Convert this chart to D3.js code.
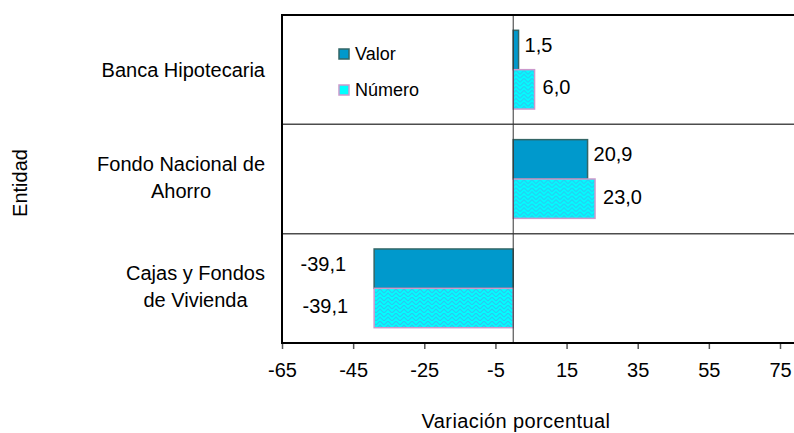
<!DOCTYPE html>
<html>
<head>
<meta charset="utf-8">
<script src="https://cdn.jsdelivr.net/npm/d3@7"></script>
<style>
  body { margin: 0; background: #fff; }
  svg { display: block; font-family: "Liberation Sans", Arial, sans-serif; }
  .tick text { font-size: 20px; fill: #000; }
</style>
</head>
<body>
<svg id="chart" width="794" height="433"></svg>
<script>
var categories = ["Banca Hipotecaria", "Fondo Nacional de Ahorro", "Cajas y Fondos de Vivienda"];
var categoryLines = [["Banca Hipotecaria"], ["Fondo Nacional de", "Ahorro"], ["Cajas y Fondos", "de Vivienda"]];
var seriesNames = ["Valor", "Número"];
var valor = [1.5, 20.9, -39.1];
var numero = [6.0, 23.0, -39.1];
var xTicks = [-65, -45, -25, -5, 15, 35, 55, 75];

var svg = d3.select("#chart"),
    plotLeft = 282, plotTop = 15, plotBottom = 343, plotRight = 794;

var es = d3.formatLocale({decimal: ",", thousands: ".", grouping: [3], currency: ["", ""], minus: "-"});
var fmt = es.format(".1f");

var x = d3.scaleLinear()
  .domain([-65, 75])
  .range([plotLeft, 780]);

var y = d3.scaleBand()
  .domain(categories)
  .range([plotTop, plotBottom])
  .paddingInner(0.28)
  .paddingOuter(0.14);

var ySub = d3.scaleBand()
  .domain(seriesNames)
  .range([0, y.bandwidth()]);

var rows = categories.map(function(c, i) {
  return {cat: c, lines: categoryLines[i], values: [valor[i], numero[i]]};
});

// pattern for the Número bars
var defs = svg.append("defs");
var pat = defs.append("pattern")
  .attr("id", "zig")
  .attr("patternUnits", "userSpaceOnUse")
  .attr("width", 8)
  .attr("height", 8);
pat.append("rect").attr("width", 8).attr("height", 8).attr("fill", "#00ffff");
pat.append("path")
  .attr("d", "M0,4 L4,0 L8,4 M0,8 L4,4 L8,8")
  .attr("fill", "none")
  .attr("stroke", "#2bc8f0")
  .attr("stroke-width", 1.2);

var fills = ["#0099cc", "url(#zig)"],
    strokes = ["#336666", "#cc99cc"];

// category separators
var band = y.step();
svg.selectAll(".sep")
  .data(categories.slice(1))
  .enter().append("line")
  .attr("class", "sep")
  .attr("x1", plotLeft).attr("x2", plotRight)
  .attr("y1", function(d) { return y(d) - y.paddingInner() * band / 2; })
  .attr("y2", function(d) { return y(d) - y.paddingInner() * band / 2; })
  .attr("stroke", "#4d4d4d")
  .attr("stroke-width", 1.5);

// bars
var g = svg.selectAll(".cat")
  .data(rows)
  .enter().append("g")
  .attr("class", "cat")
  .attr("transform", function(d) { return "translate(0," + y(d.cat) + ")"; });

var pieces = function(d) {
  return d.values.map(function(v, i) { return {v: v, s: seriesNames[i], i: i}; });
};

g.selectAll("rect")
  .data(pieces)
  .enter().append("rect")
  .attr("x", function(d) { return x(Math.min(0, d.v)); })
  .attr("y", function(d) { return ySub(d.s); })
  .attr("width", function(d) { return Math.abs(x(d.v) - x(0)); })
  .attr("height", ySub.bandwidth())
  .attr("fill", function(d) { return fills[d.i]; })
  .attr("stroke", function(d) { return strokes[d.i]; })
  .attr("stroke-width", 1.5);

g.selectAll("text.lbl")
  .data(pieces)
  .enter().append("text")
  .attr("class", "lbl")
  .attr("x", function(d) {
    if (d.v >= 0) return x(d.v) + (d.i == 0 ? 6 : 8);
    return x(d.v) - (d.i == 0 ? 28 : 26);
  })
  .attr("y", function(d) { return ySub(d.s) + ySub.bandwidth() / 2 + (d.i == 0 ? 2 : 5); })
  .attr("text-anchor", function(d) { return d.v >= 0 ? "start" : "end"; })
  .attr("font-size", 20)
  .text(function(d) { return fmt(d.v); });

// zero line
svg.append("line")
  .attr("x1", x(0)).attr("x2", x(0))
  .attr("y1", plotTop).attr("y2", plotBottom)
  .attr("stroke", "#333")
  .attr("stroke-width", 1);

// x axis
var xAxis = svg.append("g")
  .attr("class", "axis axis--x")
  .attr("transform", "translate(0," + plotBottom + ")")
  .call(d3.axisBottom(x).tickValues(xTicks).tickSize(6).tickPadding(14).tickFormat(es.format("d")));
xAxis.select(".domain").remove();
xAxis.selectAll(".tick line").attr("stroke", "#555").attr("stroke-width", 1.5);
xAxis.selectAll(".tick text").attr("font-family", null).attr("font-size", null);

// frame: left, top, bottom
svg.append("line").attr("x1", plotLeft).attr("x2", plotRight).attr("y1", plotTop).attr("y2", plotTop)
  .attr("stroke", "#000").attr("stroke-width", 2);
svg.append("line").attr("x1", plotLeft).attr("x2", plotLeft).attr("y1", plotTop - 1).attr("y2", plotBottom + 1)
  .attr("stroke", "#000").attr("stroke-width", 2);
svg.append("line").attr("x1", plotLeft).attr("x2", plotRight).attr("y1", plotBottom).attr("y2", plotBottom)
  .attr("stroke", "#000").attr("stroke-width", 2);

// category labels, lines centered, block right-aligned
var labelRight = 265, lineH = 27;
rows.forEach(function(d) {
  var cy = y(d.cat) + y.bandwidth() / 2;
  var t = svg.append("text")
    .attr("font-size", 20)
    .attr("text-anchor", "middle");
  var spans = d.lines.map(function(line, i) {
    return t.append("tspan")
      .attr("y", cy + 7 + (i - (d.lines.length - 1) / 2) * lineH - (d.lines.length > 1 ? 2 : 0))
      .text(line);
  });
  var w = d3.max(spans, function(s) { return s.node().getComputedTextLength(); });
  spans.forEach(function(s) { s.attr("x", labelRight - w / 2); });
});

// axis titles
svg.append("text")
  .attr("x", 516).attr("y", 428)
  .attr("text-anchor", "middle")
  .attr("font-size", 20)
  .attr("letter-spacing", 0.4)
  .text("Variación porcentual");

svg.append("text")
  .attr("transform", "translate(27,183) rotate(-90)")
  .attr("text-anchor", "middle")
  .attr("font-size", 20)
  .text("Entidad");

// legend
var legend = svg.append("g").attr("transform", "translate(339,49)");
var li = legend.selectAll("g")
  .data(seriesNames)
  .enter().append("g")
  .attr("transform", function(d, i) { return "translate(0," + i * 36 + ")"; });
li.append("rect")
  .attr("width", 10).attr("height", 10)
  .attr("fill", function(d, i) { return i == 0 ? fills[0] : "#00ffff"; })
  .attr("stroke", function(d, i) { return strokes[i]; })
  .attr("stroke-width", 1.5);
li.append("text")
  .attr("x", 16).attr("y", 11)
  .attr("font-size", 18)
  .text(function(d) { return d; });
</script>
</body>
</html>
